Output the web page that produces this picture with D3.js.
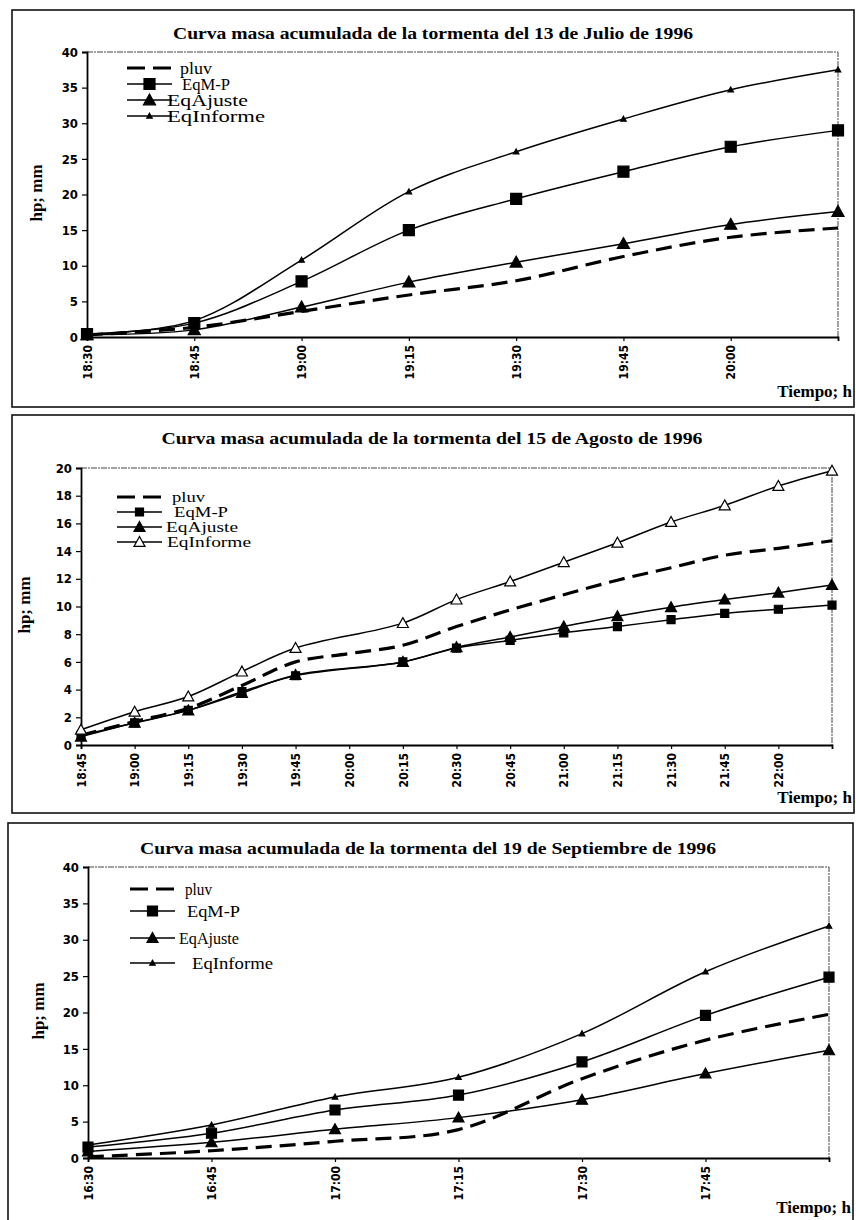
<!DOCTYPE html>
<html>
<head>
<meta charset="utf-8">
<script src="https://cdn.jsdelivr.net/npm/d3@7"></script>
<style>
  html, body { margin: 0; padding: 0; background: #fff; }
  svg { display: block; }
  .tick text { font-family: "Liberation Sans Narrow", "DejaVu Sans Condensed", "Liberation Sans", sans-serif; font-weight: bold; font-size: 13px; fill: #000; }
  .title { font-family: "Liberation Serif", "DejaVu Serif", serif; font-weight: bold; font-size: 17px; }
  .legend text { font-family: "Liberation Serif", "DejaVu Serif", serif; }
  .ylab, .xlab { font-family: "Liberation Serif", "DejaVu Serif", serif; font-weight: bold; font-size: 17px; }
</style>
</head>
<body>
<svg id="chart" width="856" height="1220"></svg>
<script>
// ---- Storm of 13 July 1996 ----
const julTimes = ["18:30", "18:45", "19:00", "19:15", "19:30", "19:45", "20:00", "20:15"];
const julTickLabels = ["18:30", "18:45", "19:00", "19:15", "19:30", "19:45", "20:00"];
const julPluv      = [0.3, 1.35, 3.6, 5.9, 7.9, 11.3, 14.0, 15.3];
const julEqMP      = [0.4, 1.95, 7.8, 15.0, 19.4, 23.2, 26.7, 29.0];
const julEqAjuste  = [0.3, 1.0, 4.2, 7.7, 10.5, 13.1, 15.8, 17.6];
const julEqInforme = [0.4, 2.3, 10.8, 20.4, 26.0, 30.6, 34.7, 37.5];
const julYTicks    = [0, 5, 10, 15, 20, 25, 30, 35, 40];

// ---- Storm of 15 August 1996 (no model values at 20:00) ----
const augTimes = ["18:45", "19:00", "19:15", "19:30", "19:45", "20:00", "20:15", "20:30",
                  "20:45", "21:00", "21:15", "21:30", "21:45", "22:00", "22:15"];
const augTickLabels = ["18:45", "19:00", "19:15", "19:30", "19:45", "20:00", "20:15", "20:30",
                       "20:45", "21:00", "21:15", "21:30", "21:45", "22:00"];
const augPluv      = [0.7, 1.7, 2.65, 4.3, 6.0, 6.6, 7.2, 8.55, 9.75, 10.85, 11.9, 12.8, 13.7, 14.2, 14.75];
const augEqMP      = [0.7, 1.6, 2.5, 3.85, 5.0, null, 6.0, 7.0, 7.55, 8.1, 8.55, 9.05, 9.5, 9.8, 10.1];
const augEqAjuste  = [0.6, 1.6, 2.5, 3.75, 5.05, null, 6.0, 7.05, 7.8, 8.55, 9.3, 9.95, 10.5, 11.0, 11.55];
const augEqInforme = [1.1, 2.4, 3.5, 5.3, 7.0, null, 8.8, 10.5, 11.8, 13.2, 14.6, 16.1, 17.3, 18.7, 19.8];
const augYTicks    = [0, 2, 4, 6, 8, 10, 12, 14, 16, 18, 20];

// ---- Storm of 19 September 1996 ----
const sepTimes = ["16:30", "16:45", "17:00", "17:15", "17:30", "17:45", "18:00"];
const sepTickLabels = ["16:30", "16:45", "17:00", "17:15", "17:30", "17:45"];
const sepPluv      = [0.15, 1.0, 2.3, 3.9, 10.9, 16.2, 19.75];
const sepEqMP      = [1.5, 3.4, 6.6, 8.65, 13.2, 19.6, 24.85];
const sepEqAjuste  = [0.9, 2.15, 3.95, 5.55, 8.0, 11.6, 14.8];
const sepEqInforme = [1.8, 4.55, 8.4, 11.1, 17.1, 25.6, 31.9];
const sepYTicks    = [0, 5, 10, 15, 20, 25, 30, 35, 40];

const seriesNames = ["pluv", "EqM-P", "EqAjuste", "EqInforme"];

const svg = d3.select("#chart");
svg.append("rect").attr("width", 856).attr("height", 1220).attr("fill", "#fff");

// Layout of each framed panel
const panels = [
  {
    title: "Curva masa acumulada de la tormenta del 13 de Julio de 1996",
    times: julTimes, ticks: julTickLabels, yTicks: julYTicks, yMax: 40,
    series: [julPluv, julEqMP, julEqAjuste, julEqInforme],
    box: [12, 10, 854, 407], plot: [87, 52, 838, 337],
    titleX: 433, titleY: 39, titleLen: 520,
    ylabX: 42, ylabY: 193, xlabY: 397,
    legend: { x0: 127, x1: 172, rows: [68, 84, 100, 116], fontSize: 16,
              textX: [180, 182, 167, 167], textLen: [32, 48, 81, 98] },
    markers: { sq: 11, tri: 11, inf: 5, infOpen: false }
  },
  {
    title: "Curva masa acumulada de la tormenta del 15 de Agosto de 1996",
    times: augTimes, ticks: augTickLabels, yTicks: augYTicks, yMax: 20,
    series: [augPluv, augEqMP, augEqAjuste, augEqInforme],
    box: [12, 415, 854, 813], plot: [81, 468, 832, 745],
    titleX: 432, titleY: 444, titleLen: 541,
    ylabX: 30, ylabY: 605, xlabY: 803,
    legend: { x0: 117, x1: 162, rows: [497, 512, 527, 542], fontSize: 15,
              textX: [172, 174, 166, 167], textLen: [33, 54, 72, 84] },
    markers: { sq: 8, tri: 10, inf: 10, infOpen: true }
  },
  {
    title: "Curva masa acumulada de la tormenta del 19 de Septiembre de 1996",
    times: sepTimes, ticks: sepTickLabels, yTicks: sepYTicks, yMax: 40,
    series: [sepPluv, sepEqMP, sepEqAjuste, sepEqInforme],
    box: [8, 823, 853, 1224], plot: [88, 867, 829, 1158],
    titleX: 428, titleY: 854, titleLen: 576,
    ylabX: 44, ylabY: 1011, xlabY: 1213,
    legend: { x0: 130, x1: 175, rows: [889, 911, 938, 963], fontSize: 17,
              textX: [185, 187, 179, 192], textLen: [27, 53, 60, 81] },
    markers: { sq: 10, tri: 10, inf: 5, infOpen: false }
  }
];

function markerPath(type, size) {
  if (type === "square") {
    const h = size / 2;
    return `M${-h},${-h}H${h}V${h}H${-h}Z`;
  }
  const h = size * 0.55;
  return `M0,${-h}L${h},${h * 0.8}L${-h},${h * 0.8}Z`;
}

panels.forEach(p => {
  const g = svg.append("g");
  const [bx0, by0, bx1, by1] = p.box;
  const [px0, py0, px1, py1] = p.plot;

  // panel frame
  g.append("rect")
    .attr("x", bx0).attr("y", by0).attr("width", bx1 - bx0).attr("height", by1 - by0)
    .attr("fill", "none").attr("stroke", "#111").attr("stroke-width", 1.6);

  // plot area border (top and right)
  g.append("path")
    .attr("d", `M${px0},${py0}H${px1}V${py1}`)
    .attr("fill", "none").attr("stroke", "#444").attr("stroke-width", 1)
    .attr("stroke-dasharray", "6,1,2,1");

  const x = d3.scalePoint().domain(p.times).range([px0, px1]);
  const y = d3.scaleLinear().domain([0, p.yMax]).range([py1, py0]);

  // y axis
  const ya = g.append("g").attr("transform", `translate(${px0},0)`)
    .call(d3.axisLeft(y).tickValues(p.yTicks).tickSize(5).tickPadding(4));
  ya.select(".domain").attr("stroke", "#000").attr("stroke-width", 1.8);
  ya.selectAll(".tick line").attr("stroke", "#000").attr("stroke-width", 1.2);

  // x axis
  const xa = g.append("g").attr("transform", `translate(0,${py1})`)
    .call(d3.axisBottom(x).tickValues(p.ticks).tickSize(4).tickPadding(3));
  xa.select(".domain").attr("stroke", "#000").attr("stroke-width", 1.8);
  xa.selectAll(".tick line").attr("stroke", "#000").attr("stroke-width", 1.2);
  xa.selectAll(".tick text")
    .attr("transform", "rotate(-90)")
    .attr("text-anchor", "end")
    .attr("x", -8).attr("y", 0).attr("dy", "0.35em")
    .style("font-size", "12px");

  // title
  g.append("text").attr("class", "title")
    .attr("x", p.titleX).attr("y", p.titleY).attr("text-anchor", "middle")
    .attr("textLength", p.titleLen).attr("lengthAdjust", "spacingAndGlyphs")
    .text(p.title);

  // axis titles
  g.append("text").attr("class", "ylab")
    .attr("transform", `translate(${p.ylabX},${p.ylabY}) rotate(-90)`)
    .attr("text-anchor", "middle").text("hp; mm");
  g.append("text").attr("class", "xlab")
    .attr("x", bx1 - 2).attr("y", p.xlabY).attr("text-anchor", "end").text("Tiempo; h");

  // series lines
  const line = d3.line()
    .x(d => x(d.t)).y(d => y(d.v))
    .curve(d3.curveCatmullRom.alpha(0.5));

  const styles = [
    { dash: "16,8", width: 3.2, marker: null },
    { dash: null, width: 1.5, marker: "square", size: p.markers.sq, fill: "#000" },
    { dash: null, width: 1.5, marker: "triangle", size: p.markers.tri, fill: "#000" },
    { dash: null, width: 1.5, marker: "triangle", size: p.markers.inf, fill: p.markers.infOpen ? "#fff" : "#000" }
  ];

  // draw back to front so the solid curves sit above the dashed gauge curve
  [0, 2, 1, 3].forEach(i => {
    const vals = p.series[i];
    const pts = p.times.map((t, k) => ({ t, v: vals[k] })).filter(d => d.v !== null);
    const st = styles[i];
    g.append("path").datum(pts)
      .attr("d", line)
      .attr("fill", "none").attr("stroke", "#000")
      .attr("stroke-width", st.width)
      .attr("stroke-dasharray", st.dash)
      .attr("stroke-linejoin", "round");
    if (st.marker) {
      g.selectAll(null).data(pts).enter().append("path")
        .attr("transform", d => `translate(${x(d.t)},${y(d.v)})`)
        .attr("d", markerPath(st.marker, st.size))
        .attr("fill", st.fill).attr("stroke", "#000").attr("stroke-width", 1.2);
    }
  });

  // legend
  const lg = g.append("g").attr("class", "legend");
  seriesNames.forEach((name, i) => {
    const ry = p.legend.rows[i];
    const st = styles[i];
    const { x0, x1 } = p.legend;
    lg.append("line")
      .attr("x1", x0).attr("x2", x1).attr("y1", ry).attr("y2", ry)
      .attr("stroke", "#000").attr("stroke-width", st.width)
      .attr("stroke-dasharray", st.dash ? "18,8" : null);
    if (st.marker) {
      lg.append("path")
        .attr("transform", `translate(${(x0 + x1) / 2},${ry})`)
        .attr("d", markerPath(st.marker, st.size))
        .attr("fill", st.fill).attr("stroke", "#000").attr("stroke-width", 1.2);
    }
    lg.append("text")
      .attr("x", p.legend.textX[i]).attr("y", ry).attr("dy", "0.35em")
      .style("font-size", p.legend.fontSize + "px")
      .attr("textLength", p.legend.textLen[i]).attr("lengthAdjust", "spacingAndGlyphs")
      .text(name);
  });
});
</script>
</body>
</html>
